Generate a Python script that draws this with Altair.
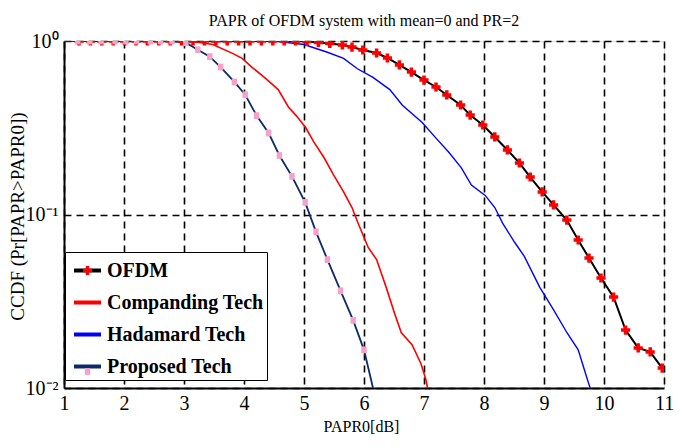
import altair as alt
import pandas as pd

series_names = ["OFDM", "Companding Tech", "Hadamard Tech", "Proposed Tech"]

# values: x = PAPR0 in dB, y = log10(CCDF)
ofdm_x = [1.0, 1.25, 1.44, 1.63, 1.82, 2.01, 2.20, 2.39, 2.58, 2.77, 2.96, 3.15, 3.34,
          3.53, 3.72, 3.91, 4.10, 4.29, 4.48, 4.67, 4.86, 5.05, 5.24, 5.43, 5.64, 5.80,
          5.98, 6.21, 6.39, 6.59, 6.79, 7.00, 7.20, 7.38, 7.61, 7.77, 7.98, 8.18, 8.39,
          8.59, 8.77, 8.97, 9.16, 9.38, 9.57, 9.75, 9.95, 10.16, 10.36, 10.57, 10.77, 10.97]
ofdm_log = [0, 0, 0, 0, 0, 0, 0, 0, 0, 0, 0, 0, 0,
            0, 0, 0, 0, 0, 0, 0, 0, -0.003, -0.008, -0.014, -0.023, -0.035,
            -0.052, -0.069, -0.098, -0.138, -0.179, -0.225, -0.265, -0.311, -0.369, -0.427, -0.484, -0.553, -0.628,
            -0.703, -0.784, -0.870, -0.945, -1.032, -1.147, -1.251, -1.366, -1.476, -1.666, -1.769, -1.792, -1.885]

comp_x = [1.0, 3.0, 3.2, 3.48, 3.8, 3.97, 4.13, 4.34, 4.57, 4.74, 4.87, 5.03, 5.16, 5.33,
          5.49, 5.66, 5.80, 5.89, 6.07, 6.21, 6.37, 6.51, 6.62, 6.80, 6.95, 7.03, 7.06]
comp_log = [0, 0, -0.005, -0.02, -0.07, -0.10, -0.15, -0.21, -0.28, -0.38, -0.43, -0.50, -0.58, -0.67,
            -0.77, -0.87, -0.96, -1.04, -1.19, -1.26, -1.42, -1.57, -1.68, -1.75, -1.86, -1.95, -2.0]

had_x = [1.0, 4.5, 5.0, 5.39, 5.66, 5.89, 6.15, 6.43, 6.64, 6.97, 7.20, 7.41, 7.62, 7.79,
         8.02, 8.18, 8.31, 8.51, 8.67, 8.93, 9.16, 9.38, 9.57, 9.66, 9.74, 9.77]
had_log = [0, 0, -0.02, -0.065, -0.10, -0.16, -0.21, -0.28, -0.37, -0.47, -0.56, -0.64, -0.73, -0.83,
           -0.89, -0.96, -1.05, -1.16, -1.24, -1.42, -1.55, -1.68, -1.78, -1.88, -1.97, -2.0]

prop_x = [1.0, 1.23, 1.43, 1.62, 1.85, 2.03, 2.21, 2.44, 2.61, 2.80, 3.03, 3.23, 3.43, 3.61,
          3.84, 4.02, 4.21, 4.41, 4.59, 4.80, 5.02, 5.20, 5.39, 5.61, 5.82, 6.00, 6.15]
prop_log = [0, 0, 0, 0, 0, 0, 0, 0, 0, 0, -0.01, -0.05, -0.09, -0.15,
            -0.236, -0.31, -0.43, -0.53, -0.66, -0.78, -0.93, -1.10, -1.26, -1.44, -1.61, -1.78, -2.0]

x_ticks = list(range(1, 12))
y_ticks = [0.01, 0.1, 1]

rows = []
for k, (name, xs, ls) in enumerate([("OFDM", ofdm_x, ofdm_log), ("Companding Tech", comp_x, comp_log),
                                    ("Hadamard Tech", had_x, had_log), ("Proposed Tech", prop_x, prop_log)]):
    for i, (x, l) in enumerate(zip(xs, ls)):
        rows.append({"series": name, "k": k, "x": x, "ccdf": 10 ** l, "i": i})
df = pd.DataFrame(rows)

FONT = "Liberation Serif"

x_enc = alt.X("x:Q", scale=alt.Scale(domain=[1, 11], nice=False, zero=False),
              axis=alt.Axis(values=x_ticks, title="PAPR0[dB]", format="d", labelFlush=False,
                            titleX=297, titleY=38, titleBaseline="middle", titleAlign="center",
                            titleFont=FONT, titleFontSize=16, titleFontWeight="normal",
                            labelFont=FONT, labelFontSize=20, labelPadding=5,
                            ticks=False, domainColor="black", domainWidth=2,
                            grid=True, gridColor="black", gridDash=[7, 5], gridWidth=1.6,
                            gridOpacity=1, labelColor="black", titleColor="black"))
y_enc = alt.Y("ccdf:Q", scale=alt.Scale(type="log", domain=[0.01, 1], nice=False),
              axis=alt.Axis(values=y_ticks, title="CCDF (Pr[PAPR>PAPR0])", labelFlush=False,
                            labelExpr="datum.value > 0.5 ? '10⁰' : (datum.value > 0.05 ? '10⁻¹' : '10⁻²')",
                            titleX=-47, titleY=175, titleBaseline="middle", titleAlign="center",
                            titleAngle=270,
                            titleFont=FONT, titleFontSize=19, titleFontWeight="normal",
                            labelFont=FONT, labelFontSize=20, labelPadding=6,
                            ticks=False, domainColor="black", domainWidth=2,
                            grid=True, gridColor="black", gridDash=[7, 5], gridWidth=1.6,
                            gridOpacity=1, labelColor="black", titleColor="black"))

line_colors = ["#000000", "#ff0000", "#0000ff", "#0b2a6b"]
color_enc = alt.Color("series:N",
                      scale=alt.Scale(domain=series_names, range=line_colors),
                      legend=alt.Legend(title=None, orient="none", legendX=1, legendY=211,
                                        symbolType="stroke", symbolSize=729, symbolStrokeWidth=4,
                                        symbolOffset=4, labelOffset=4, padding=3, rowPadding=6,
                                        labelFont=FONT, labelFontSize=20, labelFontWeight="bold",
                                        labelColor="black", labelLimit=300, zindex=0,
                                        strokeColor="black", fillColor="white"))

widths = {"OFDM": 2, "Companding Tech": 1.6, "Hadamard Tech": 1.4, "Proposed Tech": 1.8}
layers = []
for s in series_names:
    layers.append(
        alt.Chart(df).transform_filter(alt.datum.series == s)
        .mark_line(strokeWidth=widths[s], clip=True)
        .encode(x=x_enc, y=y_enc, color=color_enc, order="i:Q")
    )

cross_path = "M-0.34,-0.13H-0.13V-0.34H0.13V-0.13H0.34V0.13H0.13V0.34H-0.13V0.13H-0.34Z"
square_path = "M-0.2,-0.25H0.2V0.25H-0.2Z"
marker_legend = alt.Legend(title=None, orient="none", legendX=1, legendY=211,
                           symbolSize=729, symbolStrokeWidth=4, symbolStrokeColor="transparent",
                           symbolOffset=4, labelOffset=4, padding=3, rowPadding=6,
                           labelFont=FONT, labelFontSize=20, labelFontWeight="bold",
                           labelExpr="''", labelLimit=300, zindex=1,
                           strokeColor="transparent", fillColor="transparent")
markers = (
    alt.Chart(df)
    .transform_filter("(datum.k == 0 || datum.k == 3) && datum.i > 0 && datum.ccdf > 0.0101")
    .mark_point(filled=True, size=729, opacity=1, strokeWidth=0, clip=True)
    .encode(
        x=x_enc, y=y_enc,
        fill=alt.Fill("k:O", scale=alt.Scale(domain=[0, 1, 2, 3],
                      range=["#ff0000", "transparent", "transparent", "#f7a1c9"]), legend=marker_legend),
        shape=alt.Shape("k:O", scale=alt.Scale(domain=[0, 1, 2, 3],
                        range=[cross_path, square_path, square_path, square_path]), legend=marker_legend),
        order="i:Q",
    )
)

chart = (
    alt.layer(*layers, markers)
    .properties(
        width=600, height=347,
        autosize=alt.AutoSizeParams(type="none"),
        padding={"left": 56, "top": 33, "right": 10, "bottom": 48},
        title=alt.Title("PAPR of OFDM system with mean=0 and PR=2", font=FONT, fontSize=16,
                        fontWeight="normal", color="black", anchor="middle", offset=8, dy=19,
                        frame="group", baseline="alphabetic"),
    )
    .configure_view(stroke="black", strokeWidth=2)
    .configure_legend(strokeWidth=2)
    .configure(background="white")
)

chart.save("out.html", embed_options={"renderer": "svg", "actions": False})
